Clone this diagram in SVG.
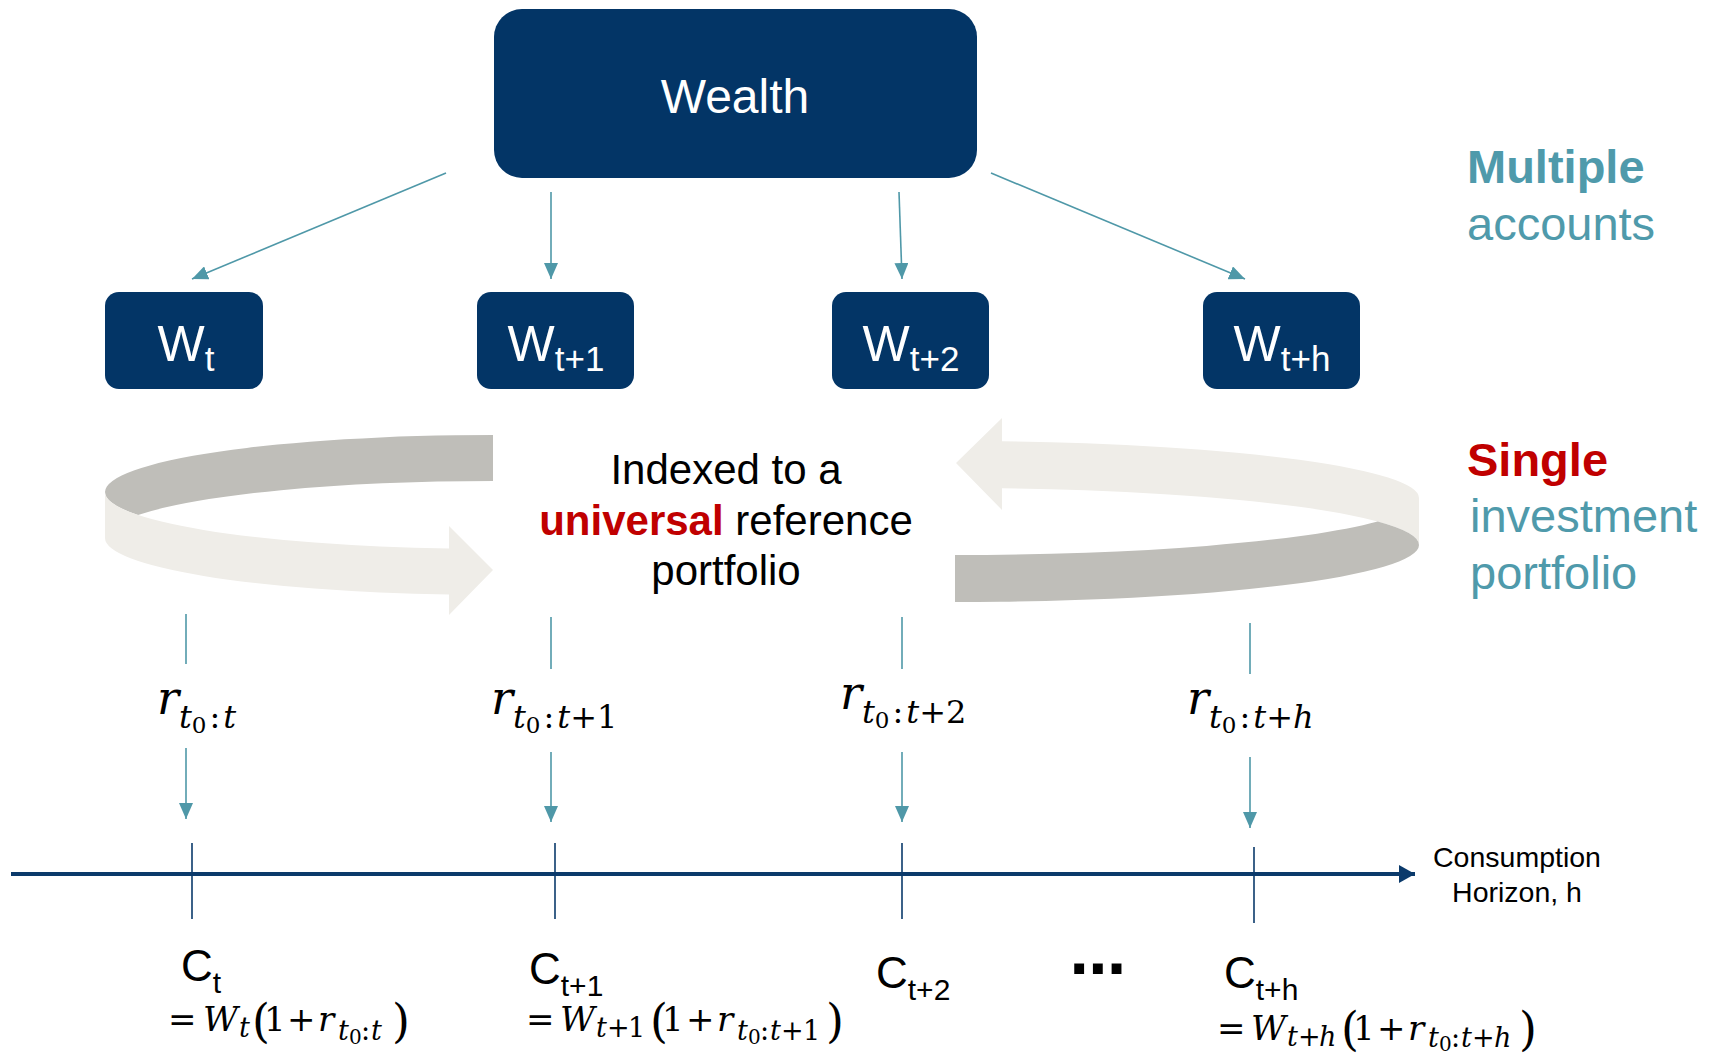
<svg xmlns="http://www.w3.org/2000/svg" width="1719" height="1055" viewBox="0 0 1719 1055">
<style>
.box{fill:#033566}
.bt{font-family:"Liberation Sans",Arial,sans-serif;fill:#fff;text-anchor:middle}
.con{stroke:#4f98a8;stroke-width:1.6;fill:none}
.tick{stroke:#0b3a6b;stroke-width:1.6}
.sans{font-family:"Liberation Sans",Arial,sans-serif;fill:#000}
.m{font-family:"DejaVu Serif",serif;fill:#000}
.i{font-style:italic}
.teal{fill:#4f9aab}
.red{fill:#c00000}
.dark{fill:#bfbeb9}
.light{fill:#efede8}
.s{font-size:27px}
.ss{font-size:20px}
.p{font-size:46px}
</style>
<defs>
<marker id="ah" viewBox="0 0 16 14" refX="16" refY="7" markerWidth="16" markerHeight="14" markerUnits="userSpaceOnUse" orient="auto"><path d="M0,0 L16,7 L0,14 Z" fill="#4f98a8"/></marker>
<marker id="axh" viewBox="0 0 16 18" refX="16" refY="9" markerWidth="16" markerHeight="18" markerUnits="userSpaceOnUse" orient="auto"><path d="M0,0 L16,9 L0,18 Z" fill="#0b3a6b"/></marker>
</defs>
<rect width="1719" height="1055" fill="#fff"/>

<g id="ribbons">
<path class="dark" d="M493,435 A388,57 0 0 0 105,492 A388,57 0 0 0 138,515 A388,57 0 0 1 493,481 Z"/>
<path class="light" d="M105,492 A388,57 0 0 0 449,548.6 L449,526 L493,570 L449,615 L449,594.6 A388,57 0 0 1 105,538 Z"/>
<path class="light" d="M1419,545 L1419,498 A464,57 0 0 0 1002,441.3 L1002,418 L956,463 L1002,510 L1002,488.3 A464,57 0 0 1 1419,545 Z"/>
<path class="dark" d="M955,555 L955,602 A464,57 0 0 0 1419,545 A464,57 0 0 0 1377.7,521.5 A464,57 0 0 1 955,555 Z"/>
</g>

<g id="wealth">
<rect class="box" x="494" y="9" width="483" height="169" rx="28"/>
<text class="bt" x="735" y="113" font-size="48">Wealth</text>
</g>
<g id="w-t">
<rect class="box" x="105" y="292" width="158" height="97" rx="14"/>
<text class="bt" x="186" y="361" font-size="50">W<tspan font-size="35" dy="10">t</tspan></text>
</g>
<g id="w-t1">
<rect class="box" x="477" y="292" width="157" height="97" rx="14"/>
<text class="bt" x="556" y="361" font-size="50">W<tspan font-size="35" dy="10">t+1</tspan></text>
</g>
<g id="w-t2">
<rect class="box" x="832" y="292" width="157" height="97" rx="14"/>
<text class="bt" x="911" y="361" font-size="50">W<tspan font-size="35" dy="10">t+2</tspan></text>
</g>
<g id="w-th">
<rect class="box" x="1203" y="292" width="157" height="97" rx="14"/>
<text class="bt" x="1282" y="361" font-size="50">W<tspan font-size="35" dy="10">t+h</tspan></text>
</g>

<g id="connectors">
<line class="con" x1="446" y1="173" x2="192" y2="279" marker-end="url(#ah)"/>
<line class="con" x1="551" y1="192" x2="551" y2="279" marker-end="url(#ah)"/>
<line class="con" x1="899" y1="192" x2="902" y2="279" marker-end="url(#ah)"/>
<line class="con" x1="991" y1="173" x2="1245" y2="279" marker-end="url(#ah)"/>
<line class="con" x1="186" y1="614" x2="186" y2="664"/>
<line class="con" x1="551" y1="617" x2="551" y2="669"/>
<line class="con" x1="902" y1="617" x2="902" y2="669"/>
<line class="con" x1="1250" y1="623" x2="1250" y2="674"/>
<line class="con" x1="186" y1="748" x2="186" y2="819" marker-end="url(#ah)"/>
<line class="con" x1="551" y1="752" x2="551" y2="822" marker-end="url(#ah)"/>
<line class="con" x1="902" y1="752" x2="902" y2="822" marker-end="url(#ah)"/>
<line class="con" x1="1250" y1="757" x2="1250" y2="828" marker-end="url(#ah)"/>
<line x1="11" y1="874" x2="1415" y2="874" stroke="#0b3a6b" stroke-width="4" marker-end="url(#axh)"/>
<line class="tick" x1="192" y1="843" x2="192" y2="919"/>
<line class="tick" x1="555" y1="843" x2="555" y2="919"/>
<line class="tick" x1="902" y1="843" x2="902" y2="919"/>
<line class="tick" x1="1254" y1="847" x2="1254" y2="923"/>
</g>

<g id="center-text">
<text class="sans" x="726" y="484" font-size="42" text-anchor="middle">Indexed to a</text>
<text class="sans" x="726" y="535" font-size="42" text-anchor="middle"><tspan class="red" font-weight="bold">universal</tspan> reference</text>
<text class="sans" x="726" y="585" font-size="42" text-anchor="middle">portfolio</text>
</g>

<g id="side-labels">
<text class="sans teal" x="1467" y="183" font-size="47" font-weight="bold">Multiple</text>
<text class="sans teal" x="1467" y="240" font-size="47">accounts</text>
<text class="sans red" x="1467" y="476" font-size="47" font-weight="bold">Single</text>
<text class="sans teal" x="1470" y="532" font-size="47">investment</text>
<text class="sans teal" x="1470" y="589" font-size="47">portfolio</text>
<text class="sans" x="1517" y="867" font-size="28.5" text-anchor="middle">Consumption</text>
<text class="sans" x="1517" y="902" font-size="28.5" text-anchor="middle">Horizon, h</text>
</g>

<g id="returns">
<text class="m" x="157" y="714" font-size="46"><tspan class="i">r</tspan><tspan class="i" font-size="32" dy="14">t</tspan><tspan font-size="23" dy="5">0</tspan><tspan font-size="32" dy="-5" dx="3">:</tspan><tspan class="i" font-size="32" dx="3">t</tspan></text>
<text class="m" x="491" y="714" font-size="46"><tspan class="i">r</tspan><tspan class="i" font-size="32" dy="14">t</tspan><tspan font-size="23" dy="5">0</tspan><tspan font-size="32" dy="-5" dx="3">:</tspan><tspan class="i" font-size="32" dx="3">t</tspan><tspan font-size="32">+1</tspan></text>
<text class="m" x="840" y="709" font-size="46"><tspan class="i">r</tspan><tspan class="i" font-size="32" dy="14">t</tspan><tspan font-size="23" dy="5">0</tspan><tspan font-size="32" dy="-5" dx="3">:</tspan><tspan class="i" font-size="32" dx="3">t</tspan><tspan font-size="32">+2</tspan></text>
<text class="m" x="1187" y="714" font-size="46"><tspan class="i">r</tspan><tspan class="i" font-size="32" dy="14">t</tspan><tspan font-size="23" dy="5">0</tspan><tspan font-size="32" dy="-5" dx="3">:</tspan><tspan class="i" font-size="32" dx="3">t</tspan><tspan font-size="32">+</tspan><tspan class="i" font-size="32">h</tspan></text>
</g>

<g id="consumption">
<text class="sans" x="181" y="981" font-size="44">C<tspan font-size="30" dy="12">t</tspan></text>
<text class="sans" x="529" y="984" font-size="44">C<tspan font-size="30" dy="12">t+1</tspan></text>
<text class="sans" x="876" y="988" font-size="44">C<tspan font-size="30" dy="12">t+2</tspan></text>
<text class="sans" x="1224" y="988" font-size="44">C<tspan font-size="30" dy="12">t+h</tspan></text>
<text font-family="DejaVu Sans, sans-serif" font-weight="bold" x="1098" y="988" font-size="56" text-anchor="middle">⋯</text>
<text class="m" font-size="34"><tspan x="168" y="1031">=</tspan><tspan class="i" x="203" y="1031">W</tspan><tspan class="i s" x="239" y="1037">t</tspan><tspan class="p" x="252" y="1037">(</tspan><tspan x="264" y="1031">1</tspan><tspan x="287" y="1031">+</tspan><tspan class="i" x="318" y="1031">r</tspan><tspan class="i s" x="338" y="1040">t</tspan><tspan class="ss" x="349" y="1044">0</tspan><tspan class="s" x="361" y="1040">:</tspan><tspan class="i s" x="371" y="1040">t</tspan><tspan class="p" x="392" y="1037">)</tspan></text>
<text class="m" font-size="34"><tspan x="526" y="1031">=</tspan><tspan class="i" x="560" y="1031">W</tspan><tspan class="i s" x="596" y="1037">t</tspan><tspan class="s" x="607" y="1037">+</tspan><tspan class="s" x="628" y="1037">1</tspan><tspan class="p" x="650" y="1037">(</tspan><tspan x="662" y="1031">1</tspan><tspan x="686" y="1031">+</tspan><tspan class="i" x="717" y="1031">r</tspan><tspan class="i s" x="737" y="1040">t</tspan><tspan class="ss" x="748" y="1044">0</tspan><tspan class="s" x="760" y="1040">:</tspan><tspan class="i s" x="770" y="1040">t</tspan><tspan class="s" x="781" y="1040">+</tspan><tspan class="s" x="803" y="1040">1</tspan><tspan class="p" x="826" y="1037">)</tspan></text>
<text class="m" font-size="34"><tspan x="1217" y="1040">=</tspan><tspan class="i" x="1251" y="1040">W</tspan><tspan class="i s" x="1287" y="1046">t</tspan><tspan class="s" x="1298" y="1046">+</tspan><tspan class="i s" x="1319" y="1046">h</tspan><tspan class="p" x="1341" y="1045">(</tspan><tspan x="1353" y="1040">1</tspan><tspan x="1377" y="1040">+</tspan><tspan class="i" x="1408" y="1040">r</tspan><tspan class="i s" x="1428" y="1047">t</tspan><tspan class="ss" x="1439" y="1051">0</tspan><tspan class="s" x="1451" y="1047">:</tspan><tspan class="i s" x="1461" y="1047">t</tspan><tspan class="s" x="1472" y="1047">+</tspan><tspan class="i s" x="1494" y="1047">h</tspan><tspan class="p" x="1519" y="1045">)</tspan></text>
</g>
</svg>
